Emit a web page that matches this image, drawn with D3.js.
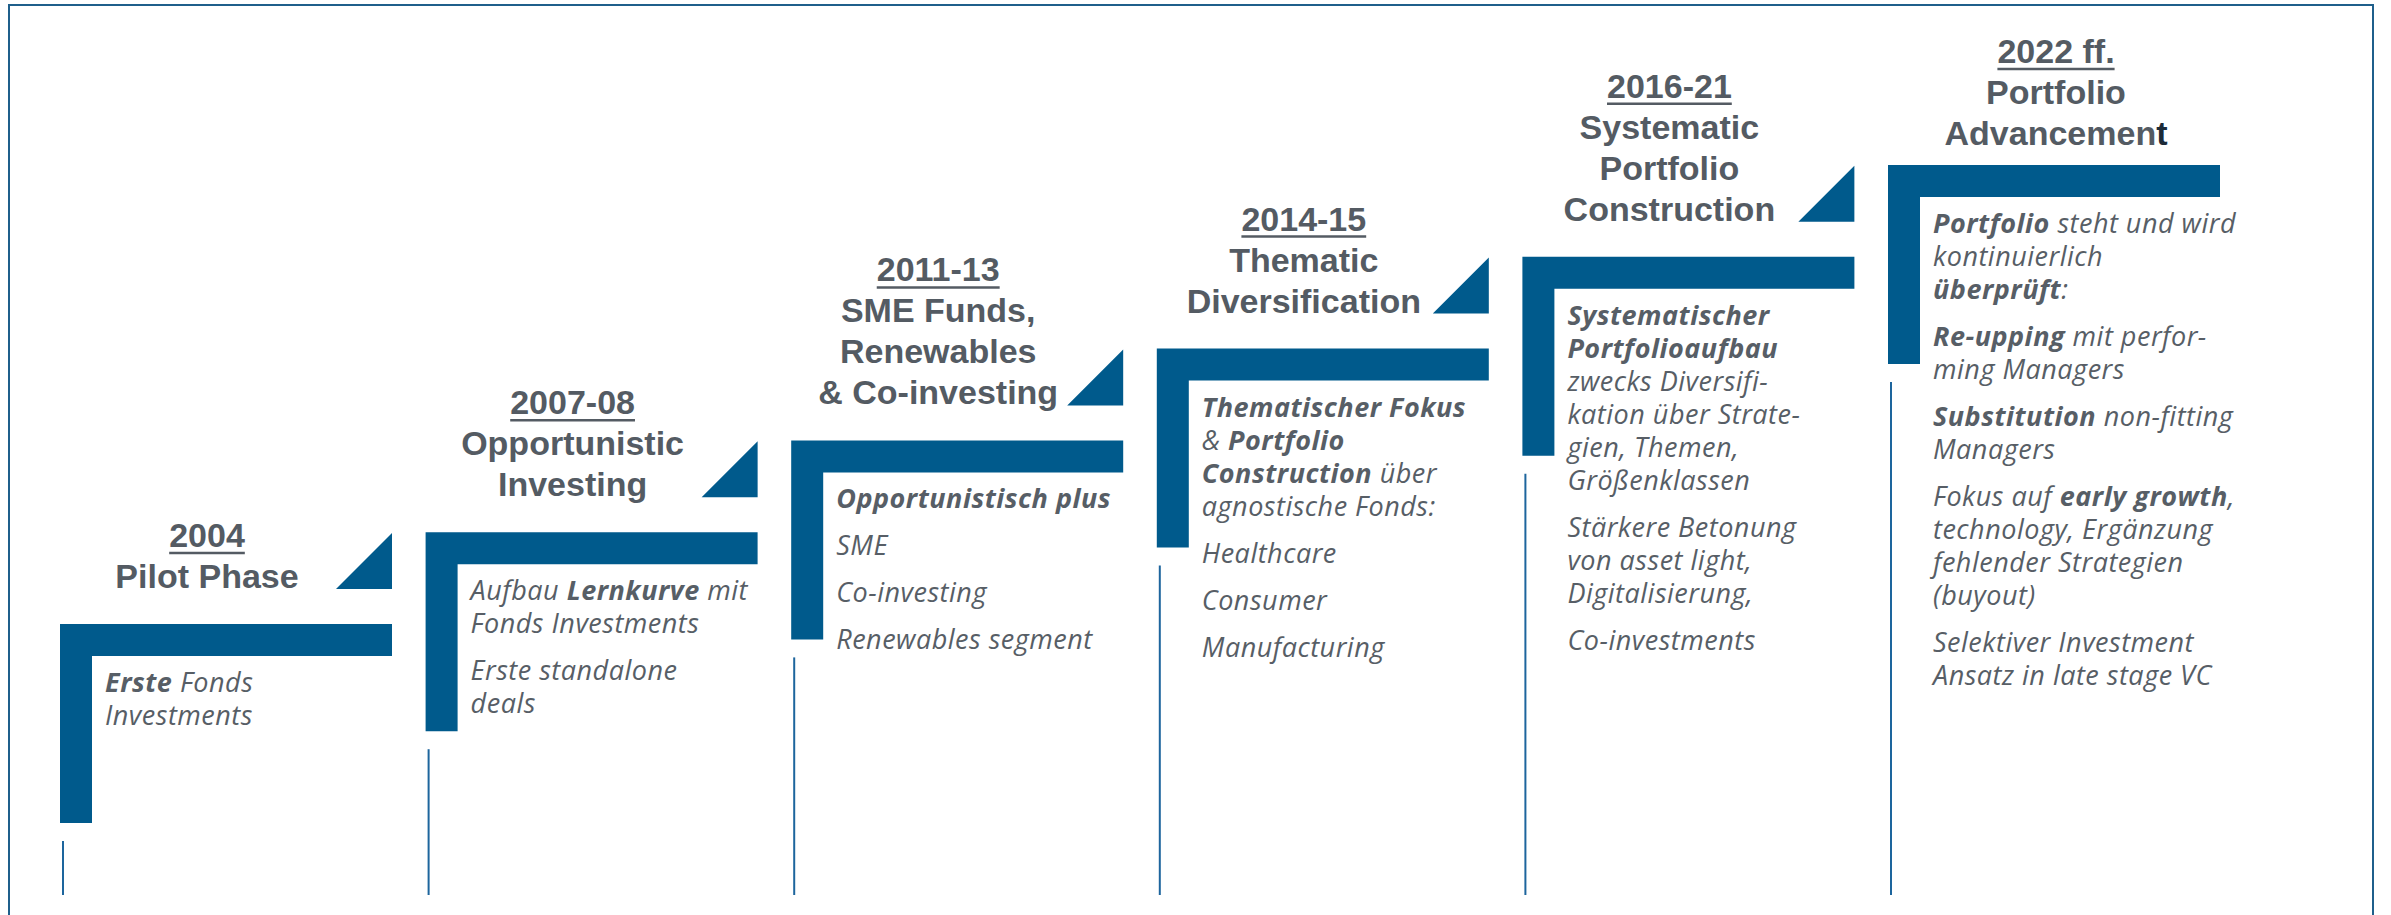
<!DOCTYPE html>
<meta charset="utf-8">
<style>
body { margin: 0; background: #fff; }
svg text { white-space: pre; }
.title { font: bold 34px "Liberation Sans", Arial, sans-serif; fill: #545b63; }
.body-text { font: italic 27px "Open Sans", sans-serif; fill: #575e66; letter-spacing: 0.5px; }
</style>
<body>
<script src="https://d3js.org/d3.v7.min.js"></script>
<script>

// phases of the timeline, left to right ("**" marks emphasised text)
var years = ["2004", "2007-08", "2011-13", "2014-15", "2016-21", "2022 ff."];

var titles = [
  ["Pilot Phase"],
  ["Opportunistic", "Investing"],
  ["SME Funds,", "Renewables", "& Co-investing"],
  ["Thematic", "Diversification"],
  ["Systematic", "Portfolio", "Construction"],
  ["Portfolio", "Advancemen**t**"]
];

// each phase: list of paragraphs, each paragraph a list of lines
var bodies = [
  [["**Erste** Fonds", "Investments"]],
  [["Aufbau **Lernkurve** mit", "Fonds Investments"],
   ["Erste standalone", "deals"]],
  [["**Opportunistisch plus**"], ["SME"], ["Co-investing"], ["Renewables segment"]],
  [["**Thematischer Fokus**", "& **Portfolio**", "**Construction** über", "agnostische Fonds:"],
   ["Healthcare"], ["Consumer"], ["Manufacturing"]],
  [["**Systematischer**", "**Portfolioaufbau**", "zwecks Diversifi-", "kation über Strate-", "gien, Themen,", "Größenklassen"],
   ["Stärkere Betonung", "von asset light,", "Digitalisierung,"],
   ["Co-investments"]],
  [["**Portfolio** steht und wird", "kontinuierlich", "**überprüft**:"],
   ["**Re-upping** mit perfor-", "ming Managers"],
   ["**Substitution** non-fitting", "Managers"],
   ["Fokus auf **early growth**,", "technology, Ergänzung", "fehlender Strategien", "(buyout)"],
   ["Selektiver Investment", "Ansatz in late stage VC"]]
];

// arrow triangle next to the title (last phase has none)
var hasArrow = [true, true, true, true, true, false];

var width = 2391, height = 915;
var blue = "#005a8c";
var barW = 332, barT = 32, legH = 199, tri = 56;

var x = d3.scaleLinear().domain([0, years.length - 1]).range([60, 1888]);
var y = d3.scaleLinear().domain([0, years.length - 1]).range([624, 165]);

function segments(s) {
  return s.split("**").map(function(t, k) { return {text: t, strong: k % 2 === 1}; })
    .filter(function(p) { return p.text.length > 0; });
}

var svg = d3.select("body").append("svg")
    .attr("width", width)
    .attr("height", height);

// outer frame (open at the bottom)
svg.append("rect")
    .attr("x", 9).attr("y", 5)
    .attr("width", 2364).attr("height", 1000)
    .attr("fill", "none")
    .attr("stroke", "#1f5f8b")
    .attr("stroke-width", 2);

var step = svg.selectAll("g.step")
    .data(years)
  .enter().append("g")
    .attr("class", "step")
    .attr("transform", function(d, i) { return "translate(" + x(i) + "," + y(i) + ")"; });

// thin line down to the bottom
step.append("line")
    .attr("x1", 3).attr("x2", 3)
    .attr("y1", legH + 18)
    .attr("y2", function(d, i) { return 895 - y(i); })
    .attr("stroke", "#1d659d")
    .attr("stroke-width", 2);

// L-shaped step
step.append("path")
    .attr("d", "M0,0H" + barW + "V" + barT + "H" + barT + "V" + legH + "H0Z")
    .attr("fill", blue);

// small triangle
step.filter(function(d, i) { return hasArrow[i]; })
  .append("path")
    .attr("d", "M" + (barW - tri) + ",-35H" + barW + "V" + (-35 - tri) + "Z")
    .attr("fill", blue);

step.each(function(d, i) {
  var g = d3.select(this);
  var lines = titles[i];
  var cx = hasArrow[i] ? 147 : 168;
  var last = hasArrow[i] ? -36 : -20;
  var lh = 41;
  var yearY = last - lh * lines.length;

  var yr = g.append("text")
      .attr("class", "title")
      .attr("x", cx).attr("y", yearY)
      .attr("text-anchor", "middle")
      .text(d);
  var w = yr.node().getComputedTextLength();
  g.append("line")
      .attr("x1", cx - w / 2).attr("x2", cx + w / 2)
      .attr("y1", yearY + 6).attr("y2", yearY + 6)
      .attr("stroke", "#545b63")
      .attr("stroke-width", 2.5);

  lines.forEach(function(line, k) {
    var t = g.append("text")
        .attr("class", "title")
        .attr("x", cx).attr("y", yearY + lh * (k + 1))
        .attr("text-anchor", "middle");
    segments(line).forEach(function(s) {
      t.append("tspan").text(s.text).style("fill", s.strong ? "#1c2a38" : null);
    });
  });

  // description paragraphs
  var by = 68;
  bodies[i].forEach(function(par, p) {
    if (p > 0) by += 14;
    par.forEach(function(line) {
      var t = g.append("text")
          .attr("class", "body-text")
          .attr("x", 45).attr("y", by);
      segments(line).forEach(function(s) {
        t.append("tspan").text(s.text).style("font-weight", s.strong ? 700 : null);
      });
      by += 33;
    });
  });
});

</script>
</body>
